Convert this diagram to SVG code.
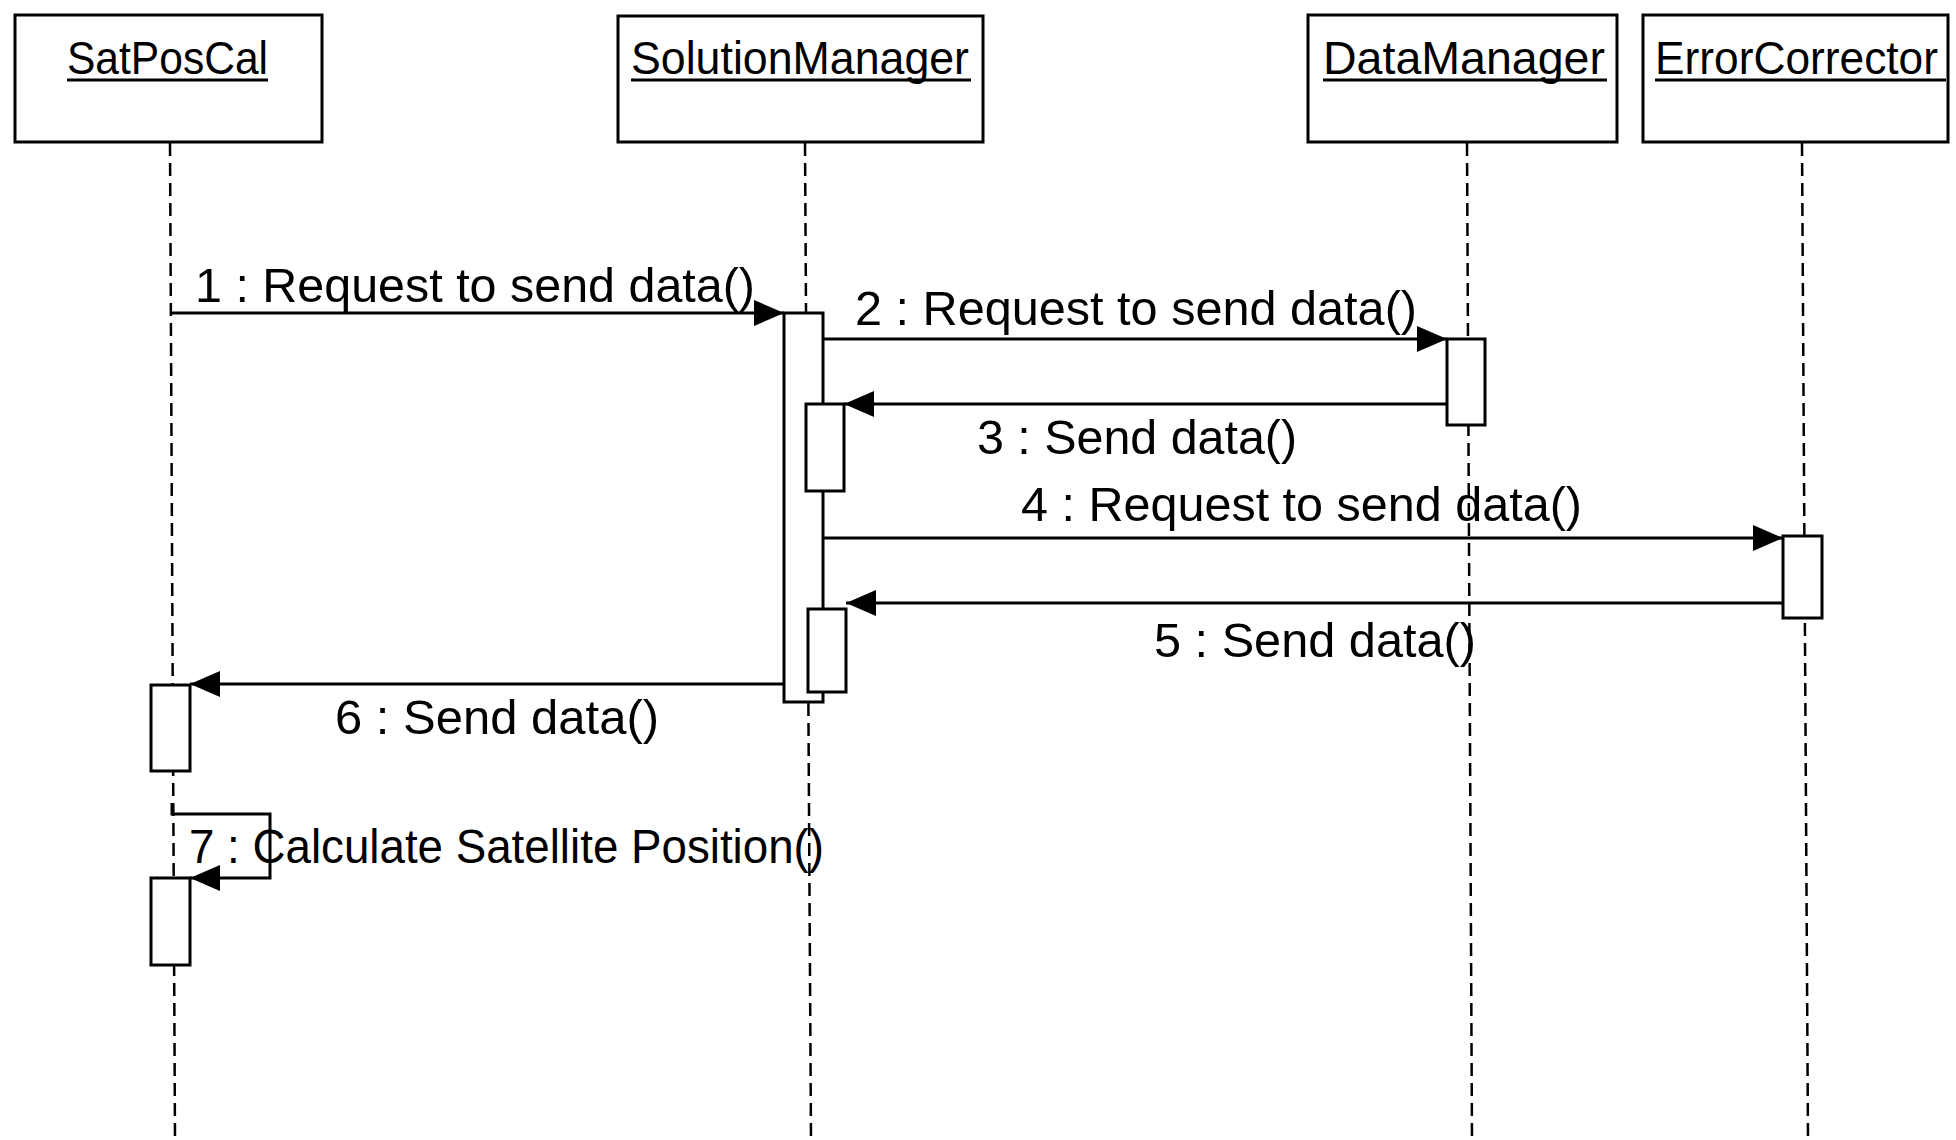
<svg xmlns="http://www.w3.org/2000/svg" width="1956" height="1140" viewBox="0 0 1956 1140">
<style>
.box{fill:#fff;stroke:#000;stroke-width:3}
.act{fill:#fff;stroke:#000;stroke-width:3}
.life{stroke:#000;stroke-width:2.5;stroke-dasharray:13 7;fill:none}
.msg{stroke:#000;stroke-width:3;fill:none}
.title{font-family:"Liberation Sans",Arial,sans-serif;font-size:46px;fill:#000}
.ul{stroke:#000;stroke-width:3}
.lbl{font-family:"Liberation Sans",Arial,sans-serif;font-size:48px;fill:#000}
</style>
<defs>
<marker id="ah" markerUnits="userSpaceOnUse" markerWidth="32" markerHeight="28" refX="30" refY="13" orient="auto">
<path d="M0,0 L30,13 L0,26 z" fill="#000"/>
</marker>
</defs>
<rect width="1956" height="1140" fill="#fff"/>
<g id="lifelines">
<line class="life" x1="170" y1="143" x2="175" y2="1140"/>
<line class="life" x1="805" y1="143" x2="811" y2="1140"/>
<line class="life" x1="1467" y1="143" x2="1472" y2="1140"/>
<line class="life" x1="1802" y1="143" x2="1808" y2="1140"/>
</g>
<g id="SatPosCal">
<rect class="box" x="15" y="15" width="307" height="127"/>
<text class="title" x="67" y="74" textLength="201" lengthAdjust="spacingAndGlyphs">SatPosCal</text>
<line class="ul" x1="67" y1="80" x2="268" y2="80"/>
</g>
<g id="SolutionManager">
<rect class="box" x="618" y="16" width="365" height="126"/>
<text class="title" x="631" y="74" textLength="338" lengthAdjust="spacingAndGlyphs">SolutionManager</text>
<line class="ul" x1="631" y1="80" x2="971" y2="80"/>
</g>
<g id="DataManager">
<rect class="box" x="1308" y="15" width="309" height="127"/>
<text class="title" x="1323" y="74" textLength="282" lengthAdjust="spacingAndGlyphs">DataManager</text>
<line class="ul" x1="1323" y1="80" x2="1607" y2="80"/>
</g>
<g id="ErrorCorrector">
<rect class="box" x="1643" y="15" width="305" height="127"/>
<text class="title" x="1655" y="74" textLength="283" lengthAdjust="spacingAndGlyphs">ErrorCorrector</text>
<line class="ul" x1="1655" y1="80" x2="1946" y2="80"/>
</g>
<g id="activations">
<rect class="act" x="784" y="313" width="39" height="389"/>
<rect class="act" x="806" y="404" width="38" height="87"/>
<rect class="act" x="808" y="609" width="38" height="83"/>
<rect class="act" x="1447" y="339" width="38" height="86"/>
<rect class="act" x="1783" y="536" width="39" height="82"/>
<rect class="act" x="151" y="685" width="39" height="86"/>
<rect class="act" x="151" y="878" width="39" height="87"/>
</g>
<g id="connectors">
<line class="msg" x1="171" y1="313" x2="784" y2="313" marker-end="url(#ah)"/>
<line class="msg" x1="823" y1="339" x2="1447" y2="339" marker-end="url(#ah)"/>
<line class="msg" x1="1447" y1="404" x2="844" y2="404" marker-end="url(#ah)"/>
<line class="msg" x1="823" y1="538" x2="1783" y2="538" marker-end="url(#ah)"/>
<line class="msg" x1="1783" y1="603" x2="846" y2="603" marker-end="url(#ah)"/>
<line class="msg" x1="784" y1="684" x2="190" y2="684" marker-end="url(#ah)"/>
<path class="msg" d="M172,803 V814 H270 V878 H190" marker-end="url(#ah)"/>
</g>
<g id="labels">
<text class="lbl" x="195" y="302" textLength="560" lengthAdjust="spacingAndGlyphs">1 : Request to send data()</text>
<text class="lbl" x="855" y="325" textLength="562" lengthAdjust="spacingAndGlyphs">2 : Request to send data()</text>
<text class="lbl" x="977" y="454" textLength="320" lengthAdjust="spacingAndGlyphs">3 : Send data()</text>
<text class="lbl" x="1021" y="521" textLength="561" lengthAdjust="spacingAndGlyphs">4 : Request to send data()</text>
<text class="lbl" x="1154" y="657" textLength="322" lengthAdjust="spacingAndGlyphs">5 : Send data()</text>
<text class="lbl" x="335" y="734" textLength="324" lengthAdjust="spacingAndGlyphs">6 : Send data()</text>
<text class="lbl" x="189" y="863" textLength="635" lengthAdjust="spacingAndGlyphs">7 : Calculate Satellite Position()</text>
</g>
</svg>
